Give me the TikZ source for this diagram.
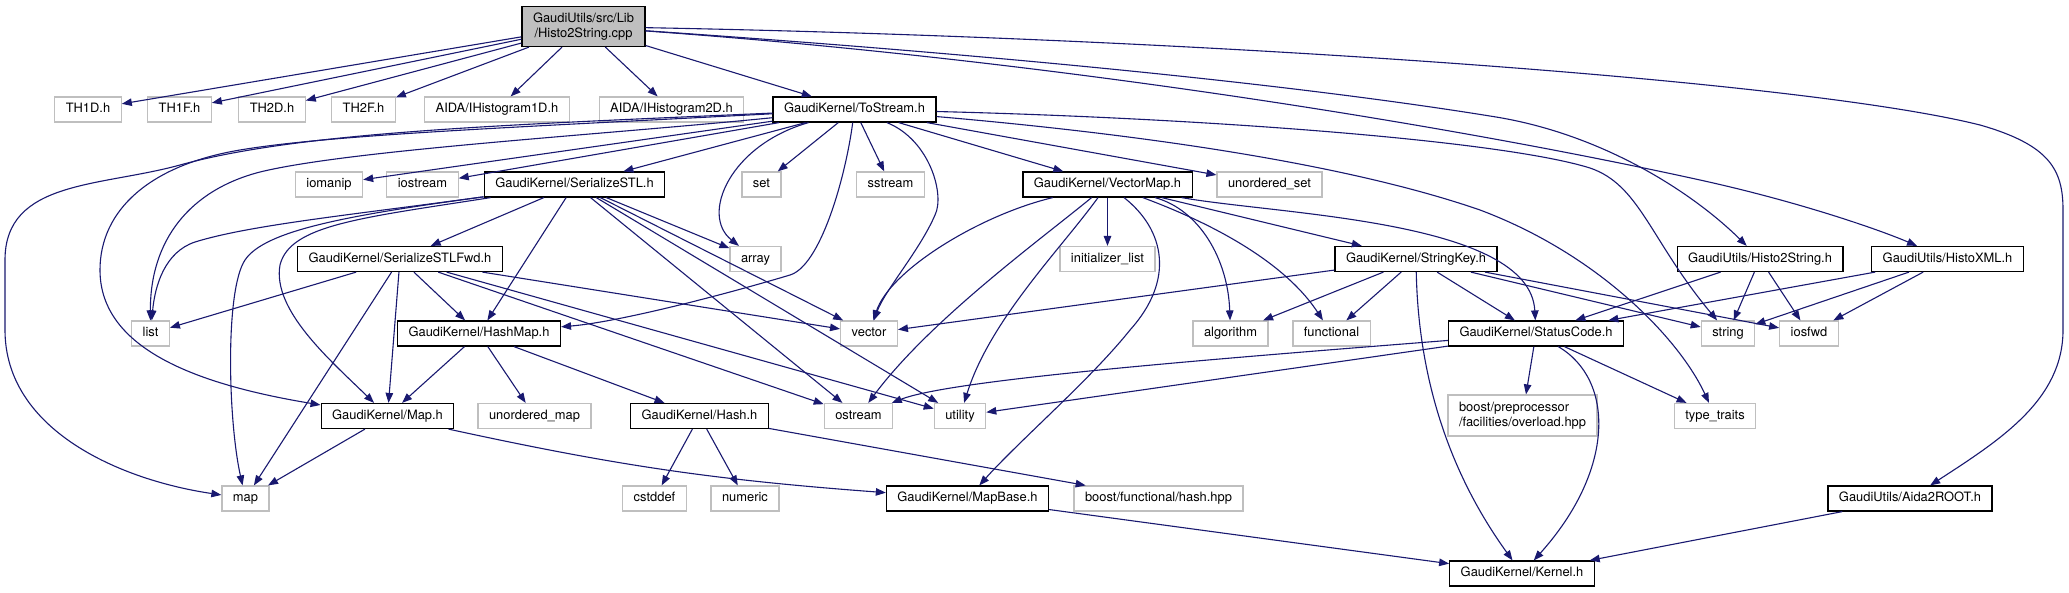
\documentclass[tikz,border=0pt]{standalone}
\usepackage{fontspec}
\setmainfont{TeX Gyre Heros}
\usetikzlibrary{arrows.meta}
\definecolor{edgeblue}{HTML}{191970}
\definecolor{extgray}{HTML}{BFBFBF}
\begin{document}
\begin{tikzpicture}[x=1pt,y=-1pt,
    box/.style={line width=1.2pt, minimum height=25pt, inner xsep=11pt, inner ysep=2pt,
      text height=9.5pt, text depth=2.7pt, font=\fontsize{12.9}{15}\selectfont},
    ext/.style={box, draw=extgray},
    doc/.style={box, draw=black},
    dep/.style={-{Triangle[length=10pt,width=7.5pt]}, draw=edgeblue, line width=1.1pt}]
  \path [fill=white] (0,0) rectangle (2069,592);
  \useasboundingbox (0,0) rectangle (2069,592);
  % the file itself
  \node [doc, fill=extgray, align=center, minimum height=40pt, text height=, text depth=] (cpp) at (583.5,26.5) {GaudiUtils/src/Lib\\/Histo2String.cpp};
  % first level
  \node [ext] (th1d) at (88,109.5) {TH1D.h};
  \node [ext] (th1f) at (179.5,109.5) {TH1F.h};
  \node [ext] (th2d) at (272,109.5) {TH2D.h};
  \node [ext] (th2f) at (363.5,109.5) {TH2F.h};
  \node [ext] (ih1d) at (497,109.5) {AIDA/IHistogram1D.h};
  \node [ext] (ih2d) at (671.5,109.5) {AIDA/IHistogram2D.h};
  \node [doc] (tostream) at (854.5,109.5) {GaudiKernel/ToStream.h};
  % second level
  \node [ext] (iomanip) at (329,184.5) {iomanip};
  \node [ext] (iostream) at (422.5,184.5) {iostream};
  \node [doc] (serstl) at (574.5,184.5) {GaudiKernel/SerializeSTL.h};
  \node [ext] (set) at (761.5,184.5) {set};
  \node [ext] (sstream) at (890.5,184.5) {sstream};
  \node [doc] (vecmap) at (1107.5,184.5) {GaudiKernel/VectorMap.h};
  \node [ext] (uset) at (1269.5,184.5) {unordered\_set};
  % third level
  \node [doc] (serfwd) at (400,259) {GaudiKernel/SerializeSTLFwd.h};
  \node [ext] (array) at (755.5,259) {array};
  \node [ext] (initlist) at (1107.5,259) {initializer\_list};
  \node [doc] (strkey) at (1416,259) {GaudiKernel/StringKey.h};
  \node [doc] (h2sh) at (1760,259) {GaudiUtils/Histo2String.h};
  \node [doc] (histoxml) at (1947.5,259) {GaudiUtils/HistoXML.h};
  % fourth level
  \node [ext] (list) at (150.5,333.5) {list};
  \node [doc] (hashmap) at (479,333.5) {GaudiKernel/HashMap.h};
  \node [ext] (vector) at (869,333.5) {vector};
  \node [ext] (algorithm) at (1230.5,333.5) {algorithm};
  \node [ext] (functional) at (1331.5,333.5) {functional};
  \node [doc] (status) at (1536,333.5) {GaudiKernel/StatusCode.h};
  \node [ext] (string) at (1728,333.5) {string};
  \node [ext] (iosfwd) at (1809,333.5) {iosfwd};
  % fifth level
  \node [doc] (maph) at (387.5,416) {GaudiKernel/Map.h};
  \node [ext] (umap) at (534.5,416) {unordered\_map};
  \node [doc] (hashh) at (699.5,416) {GaudiKernel/Hash.h};
  \node [ext] (ostream) at (858.5,416) {ostream};
  \node [ext] (utility) at (960,416) {utility};
  \node [ext, align=left, minimum height=41pt, text height=, text depth=] (boostpp) at (1522.5,415.5) {boost/preprocessor\\/facilities/overload.hpp};
  \node [ext] (traits) at (1715,416) {type\_traits};
  % sixth level
  \node [ext] (map) at (245.5,498.5) {map};
  \node [ext] (cstddef) at (654.5,498.5) {cstddef};
  \node [ext] (numeric) at (745,498.5) {numeric};
  \node [doc] (mapbase) at (967.5,498.5) {GaudiKernel/MapBase.h};
  \node [ext] (boosthash) at (1158.5,498.5) {boost/functional/hash.hpp};
  \node [doc] (aida) at (1910,498.5) {GaudiUtils/Aida2ROOT.h};
  % last level
  \node [doc] (kernel) at (1522,573.5) {GaudiKernel/Kernel.h};

  % Histo2String.cpp
  \draw [dep] (cpp) -- (th1d);
  \draw [dep] (cpp) -- (th1f);
  \draw [dep] (cpp) -- (th2d);
  \draw [dep] (cpp) -- (th2f);
  \draw [dep] (cpp) -- (ih1d);
  \draw [dep] (cpp) -- (ih2d);
  \draw [dep] (cpp) -- (tostream);
  \draw [dep] (cpp) .. controls (1000,55) and (1300,85) .. (1496,117)
    .. controls (1600,134) and (1690,190) .. (h2sh);
  \draw [dep] (cpp) .. controls (1050,60) and (1450,125) .. (1700,180)
    .. controls (1800,202) and (1880,230) .. (histoxml);
  \draw [dep] (cpp) .. controls (1200,38) and (1800,80) .. (1980,125)
    .. controls (2050,145) and (2063,170) .. (2063,210) -- (2063,330)
    .. controls (2063,400) and (2000,440) .. (aida);
  % ToStream.h
  \draw [dep] (tostream) -- (iomanip);
  \draw [dep] (tostream) -- (iostream);
  \draw [dep] (tostream) -- (serstl);
  \draw [dep] (tostream) -- (set);
  \draw [dep] (tostream) -- (sstream);
  \draw [dep] (tostream) -- (vecmap);
  \draw [dep] (tostream) -- (uset);
  \draw [dep] (tostream) .. controls (730,145) and (700,215) .. (array);
  \draw [dep] (tostream) .. controls (930,140) and (945,195) .. (935,215)
    .. controls (920,250) and (885,290) .. (vector);
  \draw [dep] (tostream) .. controls (845,180) and (820,266) .. (790,275)
    .. controls (730,293) and (620,322) .. (hashmap);
  \draw [dep] (tostream) .. controls (600,135) and (350,150) .. (260,172)
    .. controls (190,190) and (150,240) .. (list);
  \draw [dep] (tostream) .. controls (500,125) and (300,132) .. (180,165)
    .. controls (100,187) and (5,180) .. (5,260) -- (5,330)
    .. controls (5,430) and (120,480) .. (map);
  \draw [dep] (tostream) .. controls (500,128) and (330,135) .. (240,150)
    .. controls (150,165) and (100,210) .. (100,270)
    .. controls (100,350) and (200,385) .. (maph);
  \draw [dep] (tostream) .. controls (1200,118) and (1500,140) .. (1590,168)
    .. controls (1640,185) and (1650,240) .. (string);
  \draw [dep] (tostream) .. controls (1150,135) and (1350,165) .. (1480,210)
    .. controls (1600,255) and (1680,340) .. (traits);
  % SerializeSTL.h
  \draw [dep] (serstl) -- (serfwd);
  \draw [dep] (serstl) -- (hashmap);
  \draw [dep] (serstl) -- (array);
  \draw [dep] (serstl) -- (vector);
  \draw [dep] (serstl) -- (ostream);
  \draw [dep] (serstl) -- (utility);
  \draw [dep] (serstl) .. controls (350,215) and (250,225) .. (195,242)
    .. controls (165,252) and (155,285) .. (list);
  \draw [dep] (serstl) .. controls (350,215) and (265,230) .. (245,260)
    .. controls (225,290) and (228,420) .. (map);
  \draw [dep] (serstl) .. controls (360,218) and (290,225) .. (280,265)
    .. controls (272,310) and (330,360) .. (maph);
  % SerializeSTLFwd.h
  \draw [dep] (serfwd) -- (list);
  \draw [dep] (serfwd) -- (map);
  \draw [dep] (serfwd) -- (maph);
  \draw [dep] (serfwd) -- (hashmap);
  \draw [dep] (serfwd) -- (vector);
  \draw [dep] (serfwd) -- (ostream);
  \draw [dep] (serfwd) -- (utility);
  % HashMap.h, Map.h, Hash.h, MapBase.h
  \draw [dep] (hashmap) -- (maph);
  \draw [dep] (hashmap) -- (umap);
  \draw [dep] (hashmap) -- (hashh);
  \draw [dep] (maph) -- (map);
  \draw [dep] (maph) to [bend right=4] (mapbase);
  \draw [dep] (hashh) -- (cstddef);
  \draw [dep] (hashh) -- (numeric);
  \draw [dep] (hashh) -- (boosthash);
  \draw [dep] (mapbase) -- (kernel);
  % VectorMap.h
  \draw [dep] (vecmap) .. controls (980,215) and (890,270) .. (vector);
  \draw [dep] (vecmap) .. controls (1040,240) and (930,320) .. (ostream);
  \draw [dep] (vecmap) .. controls (1060,250) and (990,320) .. (utility);
  \draw [dep] (vecmap) -- (initlist);
  \draw [dep] (vecmap) .. controls (1165,230) and (1175,280) .. (1130,330)
    .. controls (1090,380) and (1020,440) .. (mapbase);
  \draw [dep] (vecmap) .. controls (1200,210) and (1228,260) .. (algorithm);
  \draw [dep] (vecmap) .. controls (1230,230) and (1290,270) .. (functional);
  \draw [dep] (vecmap) -- (strkey);
  \draw [dep] (vecmap) .. controls (1280,215) and (1530,220) .. (status);
  % StringKey.h
  \draw [dep] (strkey) -- (vector);
  \draw [dep] (strkey) -- (algorithm);
  \draw [dep] (strkey) -- (functional);
  \draw [dep] (strkey) .. controls (1418,360) and (1440,460) .. (kernel);
  \draw [dep] (strkey) -- (status);
  \draw [dep] (strkey) -- (string);
  \draw [dep] (strkey) -- (iosfwd);
  % StatusCode.h
  \draw [dep] (status) .. controls (1200,360) and (950,380) .. (ostream);
  \draw [dep] (status) -- (utility);
  \draw [dep] (status) -- (boostpp);
  \draw [dep] (status) -- (traits);
  \draw [dep] (status) .. controls (1615,380) and (1615,470) .. (kernel);
  % GaudiUtils headers
  \draw [dep] (h2sh) -- (status);
  \draw [dep] (h2sh) -- (string);
  \draw [dep] (h2sh) -- (iosfwd);
  \draw [dep] (histoxml) -- (status);
  \draw [dep] (histoxml) -- (string);
  \draw [dep] (histoxml) -- (iosfwd);
  \draw [dep] (aida) -- (kernel);
\end{tikzpicture}
\end{document}
